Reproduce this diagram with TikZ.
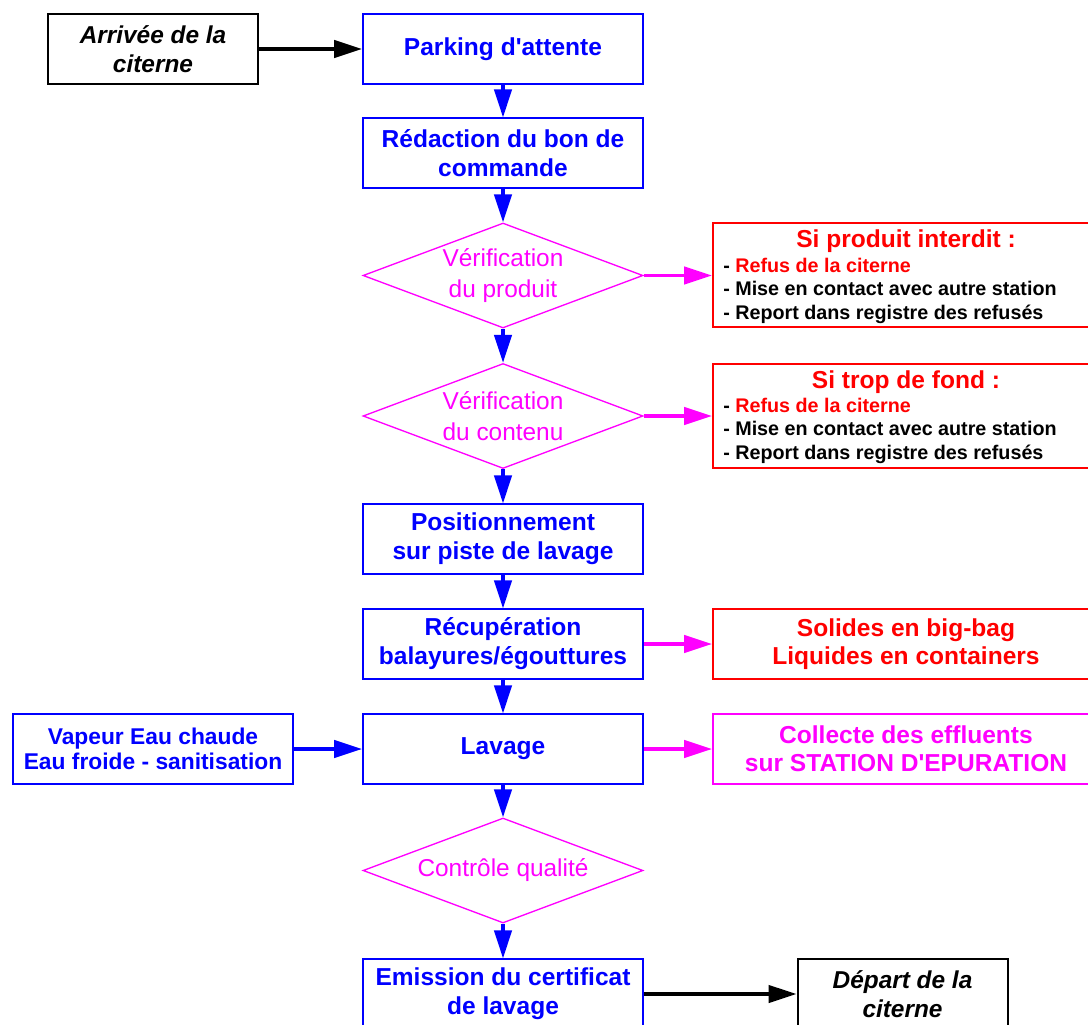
\documentclass[tikz,border=0pt]{standalone}
\usepackage{fontspec}
\setmainfont{Liberation Sans}[Ligatures=TeXOff]
\usepackage{xcolor}
\usetikzlibrary{arrows.meta,positioning,shapes.geometric}

\definecolor{bleu}{RGB}{0,0,255}
\definecolor{rouge}{RGB}{255,0,0}
\definecolor{rose}{RGB}{255,0,255}

\tikzset{
  etape/.style={draw=bleu,line width=1.4pt,text=bleu,align=center,inner sep=0pt,
    minimum width=210pt,minimum height=52pt,font=\bfseries\fontsize{18.4pt}{21.75pt}\selectfont},
  extremite/.style={draw=black,line width=1.5pt,align=center,inner sep=0pt,
    minimum width=157.5pt,minimum height=52pt,font=\bfseries\itshape\fontsize{18.3pt}{21.75pt}\selectfont},
  sortie/.style={draw=rouge,line width=1.4pt,text=rouge,align=center,inner sep=0pt,
    minimum width=289.5pt,minimum height=52pt,font=\bfseries\fontsize{18.4pt}{21pt}\selectfont},
  losange/.style={diamond,draw=rose,line width=1pt,inner sep=0pt,
    minimum width=210pt,minimum height=78.75pt},
  texte losange/.style={text=rose,align=center,font=\fontsize{18.3pt}{23.25pt}\selectfont},
  liste/.style={align=left,inner sep=0pt,font=\bfseries\fontsize{14.8pt}{17.6pt}\selectfont},
  fleche/.style={line width=2.5pt,-{Triangle[length=21pt,width=13pt]}},
}

\begin{document}
\begin{tikzpicture}[x=0.75pt,y=-0.75pt]
\useasboundingbox (0,0) rectangle (1088,1024);
% colonne principale
\node[extremite] (arrivee) at (153,49) {Arrivée de la\\citerne};
\node[etape] (parking) at (503,49) {Parking d'attente};
\node[etape] (redaction) at (503,153) {Rédaction du bon de\\commande};
\node[losange] (verifprod) at (503,275.5) {};
\node[texte losange] at (verifprod) {Vérification\\du produit};
\node[losange] (verifcont) at (503,416) {};
\node[texte losange] at (verifcont) {Vérification\\du contenu};
\node[etape] (position) at (503,539) {Positionnement\\sur piste de lavage};
\node[etape] (recup) at (503,644) {Récupération\\balayures/égouttures};
\node[etape] (lavage) at (503,749) {Lavage};
\node[losange] (controle) at (503,870.5) {};
\node[texte losange] at (controle) {Contrôle qualité};
\node[etape] (emission) at (503,994) {Emission du certificat\\de lavage};
\node[extremite] (depart) at (902.5,994) {Départ de la\\citerne};
% entree vapeur
\node[etape,minimum width=210pt,font=\bfseries\fontsize{17.1pt}{18.75pt}\selectfont] (vapeur) at (153,749) {Vapeur Eau chaude\\Eau froide - sanitisation};
% refus
\node[sortie,minimum height=78pt] (refusprod) at (906,275) {};
\node[text=rouge,font=\bfseries\fontsize{18.4pt}{21pt}\selectfont] at (906,241) {Si produit interdit :};
\node[liste,anchor=west] at (723,290.5) {- \textcolor{rouge}{Refus de la citerne}\\- Mise en contact avec autre station\\- Report dans registre des refusés};
\node[sortie,minimum height=78pt] (refuscont) at (906,416) {};
\node[text=rouge,font=\bfseries\fontsize{18.4pt}{21pt}\selectfont] at (906,382) {Si trop de fond :};
\node[liste,anchor=west] at (723,430.5) {- \textcolor{rouge}{Refus de la citerne}\\- Mise en contact avec autre station\\- Report dans registre des refusés};
% dechets et effluents
\node[sortie] (solides) at (906,644) {Solides en big-bag\\Liquides en containers};
\node[sortie,draw=rose,text=rose] (effluents) at (906,749) {Collecte des effluents\\sur STATION D'EPURATION};
% fleches
\draw[fleche,bleu] (parking) -- (redaction);
\draw[fleche,bleu] (redaction) -- (verifprod);
\draw[fleche,bleu] (verifprod) -- (verifcont);
\draw[fleche,bleu] (verifcont) -- (position);
\draw[fleche,bleu] (position) -- (recup);
\draw[fleche,bleu] (recup) -- (lavage);
\draw[fleche,bleu] (lavage) -- (controle);
\draw[fleche,bleu] (controle) -- (emission);
\draw[fleche,bleu] (vapeur) -- (lavage);
\draw[fleche,black] (arrivee) -- (parking);
\draw[fleche,black] (emission) -- (depart);
\draw[fleche,rose] (verifprod.east) -- (verifprod.east -| refusprod.west);
\draw[fleche,rose] (verifcont.east) -- (verifcont.east -| refuscont.west);
\draw[fleche,rose] (recup) -- (recup -| solides.west);
\draw[fleche,rose] (lavage) -- (lavage -| effluents.west);
\end{tikzpicture}
\end{document}
